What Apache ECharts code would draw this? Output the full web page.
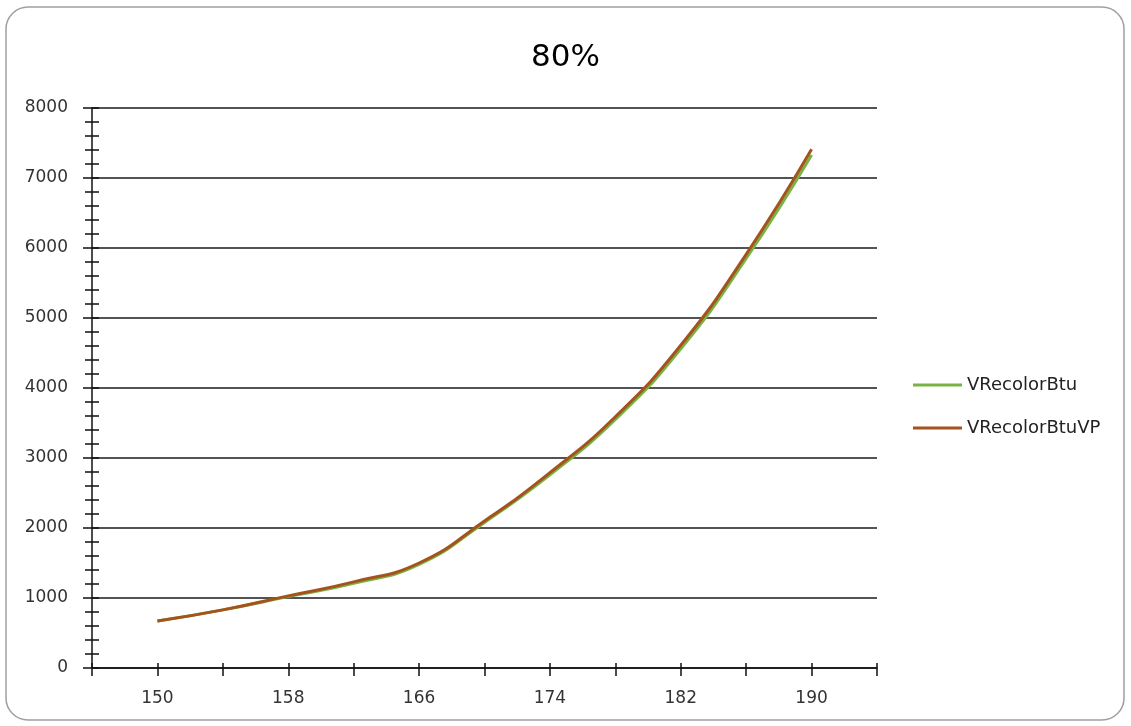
<!DOCTYPE html>
<html>
<head>
<meta charset="utf-8">
<script src="https://cdn.jsdelivr.net/npm/echarts@6/dist/echarts.min.js"></script>
<style>
html,body{margin:0;padding:0;background:#fff;}
#c{width:1131px;height:726px;}
</style>
</head>
<body>
<div id="c"></div>
<script>
// ---- data ----
var xValues = [150, 154, 158, 162, 166, 170, 174, 178, 182, 186, 190];
var vRecolorBtu = [670, 830, 1020, 1210, 1480, 2080, 2760, 3550, 4560, 5850, 7330];
var vRecolorBtuVP = [670, 830, 1030, 1230, 1500, 2100, 2790, 3590, 4610, 5910, 7410];
var xTickLabels = [150, 158, 166, 174, 182, 190];
var seriesNames = ['VRecolorBtu', 'VRecolorBtuVP'];
var titleText = '80%';

function pairs(xs, ys) { return xs.map(function (x, i) { return [x, ys[i]]; }); }

var FONT = 'DejaVu Sans';
var gridRect = { left: 92, right: 254, top: 108, bottom: 58 };
var chart = echarts.init(document.getElementById('c'), null, { renderer: 'canvas' });

var xBase = { type: 'value', min: 146, max: 194, interval: 4 };
var yBase = { type: 'value', min: 0, max: 8000, interval: 1000 };

chart.setOption({
  animation: false,
  backgroundColor: '#fff',
  title: {
    text: titleText, left: 'center', top: 37,
    textStyle: { fontFamily: FONT, fontSize: 31, fontWeight: 'normal', color: '#000' }
  },
  legend: {
    orient: 'vertical', left: 913, top: 375, padding: 0,
    icon: 'rect', itemWidth: 49, itemHeight: 3, itemGap: 23,
    data: seriesNames,
    textStyle: { fontFamily: FONT, fontSize: 18, color: '#222', lineHeight: 20, padding: [0, 0, 0, 0] }
  },
  graphic: [{
    type: 'rect', silent: true, z: -10,
    shape: { x: 6, y: 7, width: 1118, height: 713, r: 22 },
    style: { fill: 'none', stroke: '#a0a0a0', lineWidth: 1.5 }
  }],
  grid: [
    Object.assign({ containLabel: false }, gridRect),
    Object.assign({ containLabel: false }, gridRect)
  ],
  xAxis: [
    Object.assign({}, xBase, {
      gridIndex: 0,
      axisLine: { show: true, lineStyle: { color: '#111', width: 1.5 } },
      axisTick: { show: true, length: 8, lineStyle: { color: '#111', width: 1.5 } },
      splitLine: { show: false },
      axisLabel: {
        margin: 22, fontFamily: FONT, fontSize: 17, color: '#333',
        showMinLabel: true, showMaxLabel: true,
        formatter: function (v) { return xTickLabels.indexOf(v) >= 0 ? String(v) : ''; }
      }
    }),
    Object.assign({}, xBase, {
      gridIndex: 1,
      axisLine: { show: false },
      axisTick: { show: true, inside: true, length: 5, lineStyle: { color: '#111', width: 1.5 } },
      splitLine: { show: false },
      axisLabel: { show: false }
    })
  ],
  yAxis: [
    Object.assign({}, yBase, {
      gridIndex: 0,
      axisLine: { show: true, lineStyle: { color: '#111', width: 1.5 } },
      axisTick: { show: true, length: 9, lineStyle: { color: '#111', width: 1.5 } },
      minorTick: { show: true, splitNumber: 5, length: 7, lineStyle: { color: '#111', width: 1.5 } },
      splitLine: { show: true, lineStyle: { color: '#1a1a1a', width: 1.5 } },
      axisLabel: {
        margin: 24, fontFamily: FONT, fontSize: 17, color: '#333',
        formatter: function (v) { return String(v); }
      }
    }),
    Object.assign({}, yBase, {
      gridIndex: 1,
      axisLine: { show: false },
      axisTick: { show: true, inside: true, length: 7, lineStyle: { color: '#111', width: 1.5 } },
      minorTick: { show: true, splitNumber: 5, length: 7, lineStyle: { color: '#111', width: 1.5 } },
      splitLine: { show: false },
      axisLabel: { show: false }
    })
  ],
  series: [
    {
      name: seriesNames[0], type: 'line', xAxisIndex: 0, yAxisIndex: 0,
      data: pairs(xValues, vRecolorBtu), smooth: 0.5, symbol: 'none',
      lineStyle: { color: '#78b445', width: 3 }, itemStyle: { color: '#78b445' }, z: 3
    },
    {
      name: seriesNames[1], type: 'line', xAxisIndex: 0, yAxisIndex: 0,
      data: pairs(xValues, vRecolorBtuVP), smooth: 0.5, symbol: 'none',
      lineStyle: { color: '#a4531d', width: 3 }, itemStyle: { color: '#a4531d' }, z: 4
    }
  ]
});
</script>
</body>
</html>
